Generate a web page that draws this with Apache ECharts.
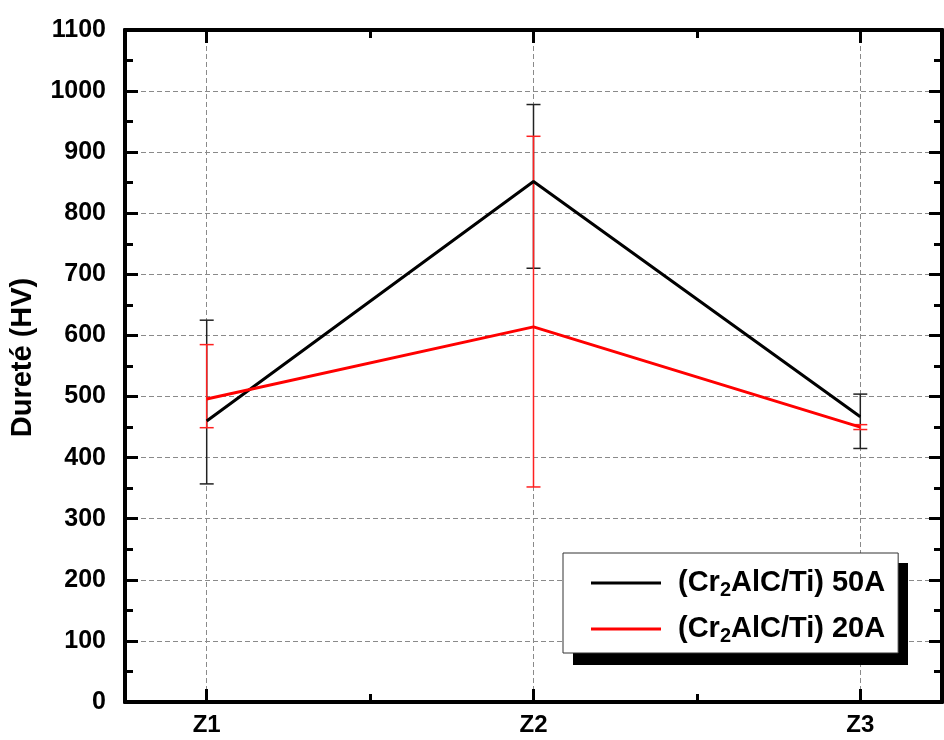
<!doctype html>
<html>
<head>
    <meta charset="utf-8">
    <title>Dureté</title>
    <style>
        html, body { margin: 0; padding: 0; background: #fff; }
        #chart { width: 944px; height: 740px; }
    </style>
</head>
<body>
<div id="chart"></div>
<script src="https://cdn.jsdelivr.net/npm/echarts@6/dist/echarts.min.js"></script>
<script>
    // zones mesurées
    var categories = ['Z1', 'Z2', 'Z3'];
    var yTicks = [0, 1100, 100];

    // (Cr2AlC/Ti) 50A
    var hv50 = [460, 852, 467];
    var hv50Low = [357, 710, 415];
    var hv50High = [625, 978, 504];

    // (Cr2AlC/Ti) 20A
    var hv20 = [496, 614, 450];
    var hv20Low = [449, 352, 446];
    var hv20High = [585, 926, 454];

    var seriesNames = ['(Cr2AlC/Ti) 50A', '(Cr2AlC/Ti) 20A'];

    // axe x : 11 positions, les zones tombent sur 1, 5, 9 et les petites graduations sur 3, 7
    var slots = [];
    for (var i = 0; i < 11; i++) slots.push('');
    categories.forEach(function (c, i) { slots[1 + 4 * i] = c; });
    function isMajor(idx) { return idx % 4 === 1; }
    function isMinor(idx) { return idx % 4 === 3; }

    function pairs(vals) {
        return vals.map(function (v, i) { return [1 + 4 * i, v]; });
    }
    function errData(low, high) {
        return low.map(function (l, i) { return [1 + 4 * i, l, high[i]]; });
    }

    var font = 'Liberation Sans, Arial, sans-serif';

    function errBar(color, w) {
        return function (params, api) {
            var lo = api.coord([api.value(0), api.value(1)]);
            var hi = api.coord([api.value(0), api.value(2)]);
            var half = 7;
            var st = { stroke: color, lineWidth: w };
            return {
                type: 'group',
                children: [
                    { type: 'line', shape: { x1: lo[0], y1: lo[1], x2: hi[0], y2: hi[1] }, style: st },
                    { type: 'line', shape: { x1: lo[0] - half, y1: lo[1], x2: lo[0] + half, y2: lo[1] }, style: st },
                    { type: 'line', shape: { x1: hi[0] - half, y1: hi[1], x2: hi[0] + half, y2: hi[1] }, style: st }
                ]
            };
        };
    }

    function xAxisDef(pos, showLabel, tickFn, tickLen, showSplit) {
        return {
            type: 'category',
            position: pos,
            data: slots,
            boundaryGap: false,
            axisLine: { show: true, onZero: false, lineStyle: { color: '#000', width: 4 } },
            axisTick: { show: true, inside: true, length: tickLen, interval: function (idx) { return tickFn(idx); }, lineStyle: { color: '#000', width: 3 } },
            axisLabel: {
                show: showLabel,
                interval: function (idx) { return isMajor(idx); },
                color: '#000', fontFamily: font, fontWeight: 'bold', fontSize: 24, margin: 11
            },
            splitLine: {
                show: showSplit,
                interval: function (idx) { return isMajor(idx); },
                lineStyle: { color: '#8a8a8a', type: [5, 3], width: 1 }
            }
        };
    }

    function yAxisDef(pos, showLabel, showSplit) {
        return {
            type: 'value',
            position: pos,
            min: yTicks[0],
            max: yTicks[1],
            interval: yTicks[2],
            name: showLabel ? 'Dureté (HV)' : '',
            nameLocation: 'middle',
            nameGap: 88,
            nameTextStyle: { color: '#000', fontFamily: font, fontWeight: 'bold', fontSize: 29, padding: [0, 0, 0, 17] },
            axisLine: { show: true, lineStyle: { color: '#000', width: 4 } },
            axisTick: { show: true, inside: true, length: 13, lineStyle: { color: '#000', width: 3 } },
            minorTick: { show: true, splitNumber: 2, length: 8, lineStyle: { color: '#000', width: 3 } },
            axisLabel: {
                show: showLabel, color: '#000', fontFamily: font, fontWeight: 'bold', fontSize: 25, margin: 19,
                formatter: function (v) { return String(v); }
            },
            splitLine: { show: showSplit, lineStyle: { color: '#8a8a8a', type: [5, 3], width: 1 } }
        };
    }

    var chart = echarts.init(document.getElementById('chart'));
    var option = {
        animation: false,
        backgroundColor: '#fff',
        grid: { left: 121, right: 2, top: 30, bottom: 38 },
        xAxis: [
            xAxisDef('bottom', true, isMajor, 13, true),
            xAxisDef('bottom', false, isMinor, 8, false),
            xAxisDef('top', false, isMajor, 13, false),
            xAxisDef('top', false, isMinor, 8, false)
        ],
        yAxis: [
            yAxisDef('left', true, true),
            yAxisDef('right', false, false)
        ],
        // ombre noire du cadre de légende
        graphic: [{
            type: 'rect',
            left: 573,
            top: 563,
            shape: { width: 335, height: 102 },
            style: { fill: '#000' },
            z: 10
        }],
        legend: {
            data: seriesNames,
            left: 563,
            top: 553,
            orient: 'vertical',
            icon: 'rect',
            padding: [13, 13, 7, 28],
            itemGap: 12,
            itemWidth: 70,
            itemHeight: 3,
            backgroundColor: '#fff',
            borderColor: '#333',
            borderWidth: 1,
            borderRadius: 0,
            z: 20,
            formatter: function (name) {
                return name.replace('Cr2', 'Cr{sub|2}');
            },
            textStyle: {
                color: '#000', fontFamily: font, fontWeight: 'bold', fontSize: 29,
                lineHeight: 32, padding: [0, 0, 0, 12],
                rich: {
                    sub: { fontFamily: font, fontWeight: 'bold', fontSize: 20, lineHeight: 32, padding: [14, 0, 0, 0] }
                }
            }
        },
        series: [
            {
                type: 'custom',
                name: 'err50',
                renderItem: errBar('#222', 1.5),
                data: errData(hv50Low, hv50High),
                encode: { x: 0, y: [1, 2] },
                z: 2,
                silent: true
            },
            {
                type: 'custom',
                name: 'err20',
                renderItem: errBar('#ff2020', 1.5),
                data: errData(hv20Low, hv20High),
                encode: { x: 0, y: [1, 2] },
                z: 3,
                silent: true
            },
            {
                name: seriesNames[0],
                type: 'line',
                data: pairs(hv50),
                symbol: 'none',
                color: '#000',
                lineStyle: { color: '#000', width: 3 },
                z: 4
            },
            {
                name: seriesNames[1],
                type: 'line',
                data: pairs(hv20),
                symbol: 'none',
                color: '#ff0000',
                lineStyle: { color: '#ff0000', width: 3 },
                z: 4
            }
        ]
    };
    chart.setOption(option);
</script>
</body>
</html>
